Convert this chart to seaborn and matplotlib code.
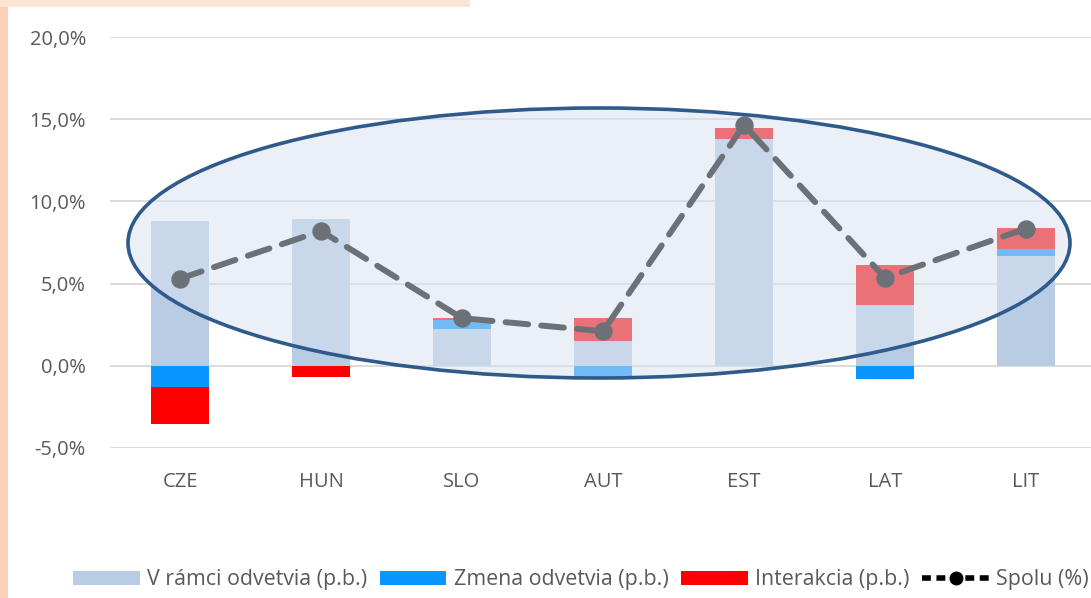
import numpy as np
import matplotlib
matplotlib.use("Agg")
import matplotlib.pyplot as plt
from matplotlib.patches import Patch, Ellipse, Rectangle
from matplotlib.lines import Line2D
from matplotlib.ticker import FixedLocator
import seaborn as sns

# Decomposition of growth by country (percentage points) and the total (%)
countries = ["CZE", "HUN", "SLO", "AUT", "EST", "LAT", "LIT"]
within_sector = [8.8, 8.9, 2.25, 1.52, 13.78, 3.68, 6.67]
sector_shift = [-1.3, 0.05, 0.55, -0.7, 0.0, -0.81, 0.46]
interaction = [-2.25, -0.7, 0.1, 1.4, 0.69, 2.44, 1.26]
total = [5.3, 8.2, 2.9, 2.1, 14.65, 5.35, 8.35]

series_names = ["V rámci odvetvia (p.b.)", "Zmena odvetvia (p.b.)",
                "Interakcia (p.b.)", "Spolu (%)"]
series_colors = ["#B8CCE4", "#0A96FF", "#FF0000"]
y_ticks = [-5, 0, 5, 10, 15, 20]
y_tick_labels = ["-5,0%", "0,0%", "5,0%", "10,0%", "15,0%", "20,0%"]

sns.set_theme(style="white")
plt.rcParams["font.family"] = ["Open Sans", "DejaVu Sans"]

W, H = 1091, 598
fig = plt.figure(figsize=(W / 100, H / 100), dpi=100, facecolor="white")

# peach page edges
fig.patches.append(Rectangle((0, 0), 8 / W, 1, transform=fig.transFigure,
                             facecolor="#FBD0B4", edgecolor="none", zorder=0))
fig.patches.append(Rectangle((0, 1 - 7 / H), 470 / W, 7 / H, transform=fig.transFigure,
                             facecolor="#FDE3D3", edgecolor="none", zorder=0))

step = 141.0
ax_left, ax_top, ax_bottom = 109.5, 37, 448
ax = fig.add_axes([ax_left / W, 1 - ax_bottom / H, (W - ax_left) / W,
                   (ax_bottom - ax_top) / H])
ax.set_facecolor("none")

# stacked bars: positives pile upward, negatives downward
pos_base = np.zeros(len(countries))
neg_base = np.zeros(len(countries))
for vals, col in zip([within_sector, sector_shift, interaction], series_colors):
    vals = np.asarray(vals, dtype=float)
    bottoms = np.where(vals >= 0, pos_base, neg_base)
    sns.barplot(x=countries, y=vals, order=countries, bottom=bottoms,
                color=col, saturation=1, width=0.405, ax=ax, zorder=2,
                linewidth=0)
    pos_base = pos_base + np.clip(vals, 0, None)
    neg_base = neg_base + np.clip(vals, None, 0)

# total as dashed line with markers
sns.pointplot(x=countries, y=total, order=countries, color="black",
              markers="o", linestyles="--", markersize=10, linewidth=4.3,
              ax=ax, zorder=3)
for ln in ax.lines:
    ln.set_dashes([3.8, 2.2])
    ln.set_dash_capstyle("round")
    ln.set_solid_capstyle("round")

ax.set_ylim(-5, 20)
ax.set_xlim(-0.5, -0.5 + (W - ax_left) / step)
ax.yaxis.set_major_locator(FixedLocator(y_ticks))
ax.set_yticklabels(y_tick_labels)
ax.grid(axis="y", color="#D9D9D9", linewidth=1.3, zorder=0)
ax.set_axisbelow(True)
for s in ax.spines.values():
    s.set_visible(False)
ax.tick_params(axis="both", length=0, labelsize=14.5, colors="#595959")
ax.tick_params(axis="y", pad=17)
ax.tick_params(axis="x", pad=17)
ax.set_xlabel("")
ax.set_ylabel("")

# highlight ellipse over the plot
ell = Ellipse((599 / W, 1 - 243 / H), 942 / W, 270 / H, transform=fig.transFigure,
              facecolor=(0.85, 0.89, 0.94, 0.5), edgecolor="#2F5A8C",
              linewidth=2.6, zorder=5, clip_on=False)
ax.add_artist(ell)

handles = [Patch(facecolor=c, edgecolor="none") for c in series_colors]
handles.append(Line2D([], [], color="black", linestyle=(0, (1.6, 1.0)), linewidth=4,
                      marker="o", markersize=9))
fig.legend(handles, series_names, loc="center", bbox_to_anchor=(581 / W, 1 - 580 / H),
           ncol=4, frameon=False, fontsize=15.4, handlelength=3.1,
           handleheight=0.6, handletextpad=0.35, columnspacing=0.6,
           labelcolor="#595959")

fig.savefig("out.png", dpi=100, facecolor="white")
